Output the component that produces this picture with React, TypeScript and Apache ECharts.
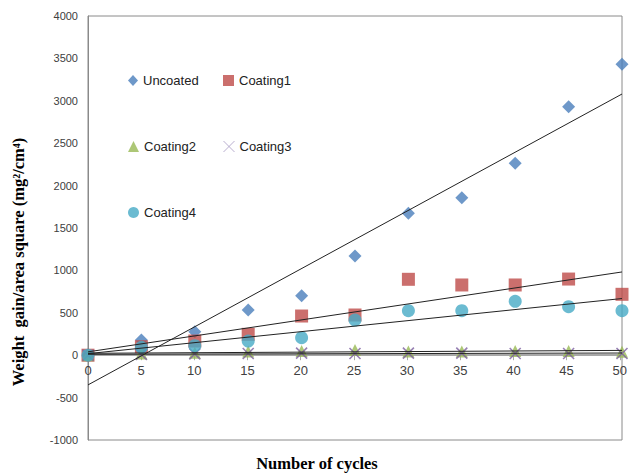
import React, { useEffect, useRef } from "react";
import * as echarts from "echarts";

const cycles = [0, 5, 10, 15, 20, 25, 30, 35, 40, 45, 50];
const uncoated = [0, 179, 277, 533, 702, 1170, 1673, 1857, 2263, 2930, 3430];
const coating1 = [0, 100, 167, 246, 462, 474, 895, 828, 828, 898, 718];
const coating2 = [0, 20, 30, 45, 50, 60, 45, 45, 50, 50, 40];
const coating3 = [0, 10, 15, 20, 25, 20, 25, 25, 20, 20, 20];
const coating4 = [0, 93, 112, 167, 206, 415, 525, 525, 636, 572, 525];

const seriesNames = ["Uncoated", "Coating1", "Coating2", "Coating3", "Coating4"];
const seriesColors = ["#4A7EBB", "#BE4B48", "#98B954", "#7D60A0", "#46AAC5"];
const seriesValues = [uncoated, coating1, coating2, coating3, coating4];

const yMin = -1000;
const yMax = 4000;
const yStep = 500;

const yTitle = "Weight  gain/area square (mg\u00B2/cm\u2074)";
const xTitle = "Number of cycles";

const crossPath = "path://M0,0L10,10M10,0L0,10";

function regression(xs: number[], ys: number[]) {
  const n = xs.length;
  const mx = xs.reduce((a, b) => a + b, 0) / n;
  const my = ys.reduce((a, b) => a + b, 0) / n;
  let sxy = 0;
  let sxx = 0;
  for (let i = 0; i < n; i++) {
    sxy += (xs[i] - mx) * (ys[i] - my);
    sxx += (xs[i] - mx) * (xs[i] - mx);
  }
  const b = sxy / sxx;
  const a = my - b * mx;
  return (x: number) => a + b * x;
}

export default function App() {
  const ref = useRef<HTMLDivElement>(null);
  useEffect(() => {
    if (!ref.current) return;
    const chart = echarts.init(ref.current, null, { renderer: "svg" });

    const H = 476;
    const gridTop = 16;
    const gridBottom = 36;
    const plotH = H - gridTop - gridBottom;
    // pixel row of value 0 inside main grid
    const zeroY = gridTop + plotH * (yMax - 0) / (yMax - yMin);

    const symbols = ["diamond", "rect", "triangle", crossPath, "circle"];
    const sizes = [13, 13, 12, 11, 13];

    const scatterSeries = seriesNames.map((name, i) => ({
      name,
      type: "scatter",
      xAxisIndex: 0,
      yAxisIndex: 0,
      symbol: symbols[i],
      symbolSize: sizes[i],
      z: 3,
      itemStyle:
        i === 3
          ? { color: "rgba(0,0,0,0)", borderColor: seriesColors[i], borderWidth: 1.6 }
          : { color: seriesColors[i] },
      data: cycles.map((c, k) => [c, seriesValues[i][k]]),
    }));

    const x0 = cycles[0];
    const x1 = cycles[cycles.length - 1];
    const trendSeries = seriesValues.map((vals, i) => {
      const f = regression(cycles, vals);
      return {
        name: seriesNames[i] + " trend",
        type: "line",
        xAxisIndex: 0,
        yAxisIndex: 0,
        showSymbol: false,
        symbol: "none",
        silent: true,
        z: 4,
        lineStyle: { color: "#222", width: 1 },
        data: [
          [x0, f(x0)],
          [x1, f(x1)],
        ],
      };
    });

    const legendPos = [
      [123, 69],
      [218, 69],
      [123, 135],
      [218, 135],
      [123, 201],
    ];

    const legends = seriesNames.map((name, i) => ({
      data: [
        {
          name,
          icon: i === 3 ? crossPath : symbols[i],
          itemStyle:
            i === 3
              ? { color: "rgba(0,0,0,0)", borderColor: "#A99BC4", borderWidth: 1 }
              : { color: seriesColors[i] },
        },
      ],
      left: legendPos[i][0],
      top: legendPos[i][1],
      itemWidth: i === 0 ? 10 : 11,
      itemHeight: 11,
      textStyle: { fontFamily: "Liberation Sans", fontSize: 13, color: "#222" },
      selectedMode: false,
    }));

    const labelFont = { fontFamily: "Liberation Sans", color: "#404040" };

    chart.setOption({
      animation: false,
      backgroundColor: "#fff",
      legend: legends,
      grid: [
        {
          left: 88,
          top: gridTop,
          right: 8,
          bottom: gridBottom,
          show: true,
          borderColor: "#8a8a8a",
          borderWidth: 1,
        },
        {
          left: 88,
          top: gridTop,
          right: 8,
          bottom: H - zeroY,
          show: false,
        },
      ],
      xAxis: [
        {
          type: "value",
          gridIndex: 0,
          min: 0,
          max: 50,
          interval: 5,
          axisLine: { show: false },
          axisTick: { show: false },
          splitLine: { show: false },
          axisLabel: { show: false },
        },
        {
          type: "value",
          gridIndex: 1,
          position: "bottom",
          min: 0,
          max: 50,
          interval: 5,
          axisLine: { show: true, onZero: false, lineStyle: { color: "#8a8a8a", width: 1.5 } },
          axisTick: { show: true, length: 5, inside: false, lineStyle: { color: "#aaa" } },
          splitLine: { show: false },
          axisLabel: { ...labelFont, fontSize: 13, margin: 9 },
        },
      ],
      yAxis: [
        {
          type: "value",
          gridIndex: 0,
          min: yMin,
          max: yMax,
          interval: yStep,
          axisLine: { show: true, onZero: false, lineStyle: { color: "#8a8a8a", width: 1 } },
          axisTick: { show: false },
          splitLine: { show: false },
          axisLabel: {
            ...labelFont,
            fontSize: 11,
            margin: 10,
            formatter: (v: number) => String(v),
          },
        },
        {
          type: "value",
          gridIndex: 1,
          min: 0,
          max: yMax,
          show: false,
        },
      ],
      graphic: [
        {
          type: "text",
          x: 18,
          y: 262,
          rotation: Math.PI / 2,
          style: {
            text: yTitle,
            font: "bold 16.5px 'Liberation Serif'",
            fill: "#000",
            align: "center",
            verticalAlign: "middle",
          },
        },
        {
          type: "text",
          x: 317,
          y: 463,
          style: {
            text: xTitle,
            font: "bold 16.5px 'Liberation Serif'",
            fill: "#000",
            align: "center",
            verticalAlign: "middle",
          },
        },
      ],
      series: [...scatterSeries, ...trendSeries],
    });

    return () => chart.dispose();
  }, []);

  return <div ref={ref} style={{ width: 630, height: 476, position: "absolute", left: 0, top: 0 }} />;
}
